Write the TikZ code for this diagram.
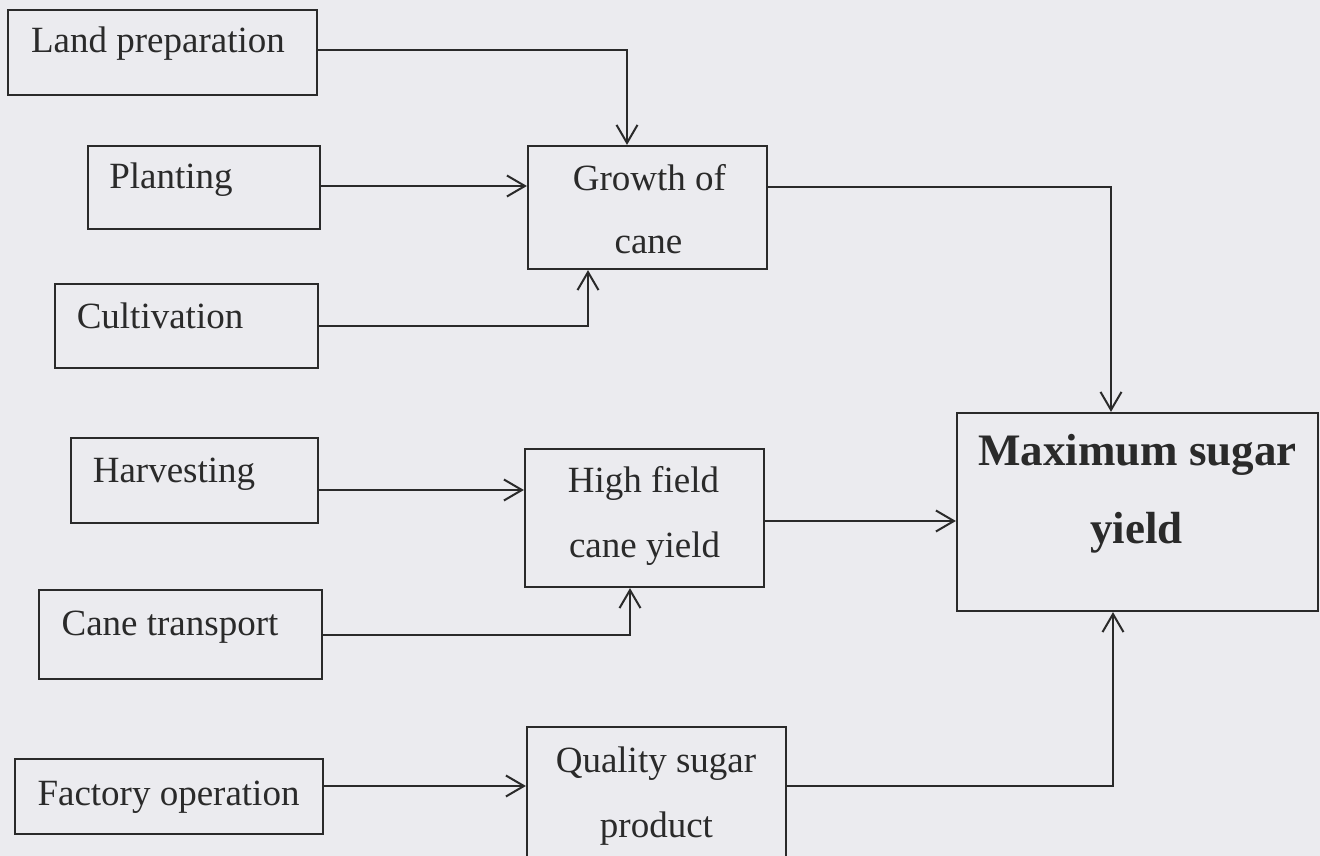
\documentclass[tikz,border=0pt]{standalone}
\usepackage{fontspec}
\setmainfont{Liberation Serif}
\usetikzlibrary{arrows.meta}
\definecolor{bg}{HTML}{EBEBEF}
\definecolor{ink}{HTML}{2A2A2A}
\tikzset{
  box/.style={draw=ink, line width=2.2pt, rectangle, inner sep=0pt},
  txt/.style={anchor=base, inner sep=0pt, text=ink, font=\fontsize{37}{44}\selectfont},
  btxt/.style={anchor=base, inner sep=0pt, text=ink, font=\fontsize{45}{54}\selectfont\bfseries},
  arr/.style={draw=ink, line width=2pt, -{Straight Barb[length=18pt,width=21pt,line width=2pt]}}
}
\begin{document}
\begin{tikzpicture}[x=1pt, y=-1pt]
\fill[bg] (0,0) rectangle (1320,856);
\useasboundingbox (0,0) rectangle (1320,856);
\begin{scope}
\clip (0,0) rectangle (1320,856);
% boxes
\node[box, minimum width=309pt, minimum height=85pt] (land) at (162.5,52.5) {};
\node[box, minimum width=232pt, minimum height=83pt] (plant) at (204,187.5) {};
\node[box, minimum width=263pt, minimum height=84pt] (cult) at (186.5,326) {};
\node[box, minimum width=239pt, minimum height=123pt] (growth) at (647.5,207.5) {};
\node[box, minimum width=247pt, minimum height=85pt] (harv) at (194.5,480.5) {};
\node[box, minimum width=239pt, minimum height=138pt] (high) at (644.5,518) {};
\node[box, minimum width=283pt, minimum height=89pt] (cane) at (180.5,634.5) {};
\node[box, minimum width=308pt, minimum height=75pt] (fact) at (169,796.5) {};
\node[box, minimum width=259pt, minimum height=143pt] (qual) at (656.5,798.5) {};
\node[box, minimum width=361pt, minimum height=198pt] (max) at (1137.5,512) {};
% texts
\node[txt] (landT) at (158,53) {Land preparation};
\node[txt] (plantT) at (171,188) {Planting};
\node[txt] (cultT) at (160,328) {Cultivation};
\node[txt] (growthT1) at (649.5,190) {Growth of};
\node[txt] (growthT2) at (648.5,253) {cane};
\node[txt] (harvT) at (174,482) {Harvesting};
\node[txt] (highT1) at (643.5,492) {High field};
\node[txt] (highT2) at (644.5,557) {cane yield};
\node[txt] (caneT) at (170,635) {Cane transport};
\node[txt] (factT) at (168.5,805) {Factory operation};
\node[txt] (qualT1) at (656,772) {Quality sugar};
\node[txt] (qualT2) at (656.5,837) {product};
\node[btxt] (maxT1) at (1137.5,465) {Maximum sugar};
\node[btxt] (maxT2) at (1136.5,543) {yield};
% connectors
\draw[arr] ([yshift=2.5pt]land.east) -| ([xshift=-20.5pt]growth.north);
\draw[arr] ([yshift=1.5pt]plant.east) -- ([yshift=1.5pt]plant.east -| growth.west);
\draw[arr] (cult.east) -| ([xshift=-59.5pt]growth.south);
\draw[arr] ([yshift=20.5pt]growth.east) -| ([xshift=-26.5pt]max.north);
\draw[arr] ([yshift=-9.5pt]harv.east) -- ([yshift=-9.5pt]harv.east -| high.west);
\draw[arr] ([yshift=-3pt]high.east) -- ([yshift=-3pt]high.east -| max.west);
\draw[arr] (cane.east) -| ([xshift=-14.5pt]high.south);
\draw[arr] ([yshift=10.5pt]fact.east) -- ([yshift=10.5pt]fact.east -| qual.west);
\draw[arr] ([yshift=12.5pt]qual.east) -| ([xshift=-24.5pt]max.south);
\end{scope}
\end{tikzpicture}
\end{document}
